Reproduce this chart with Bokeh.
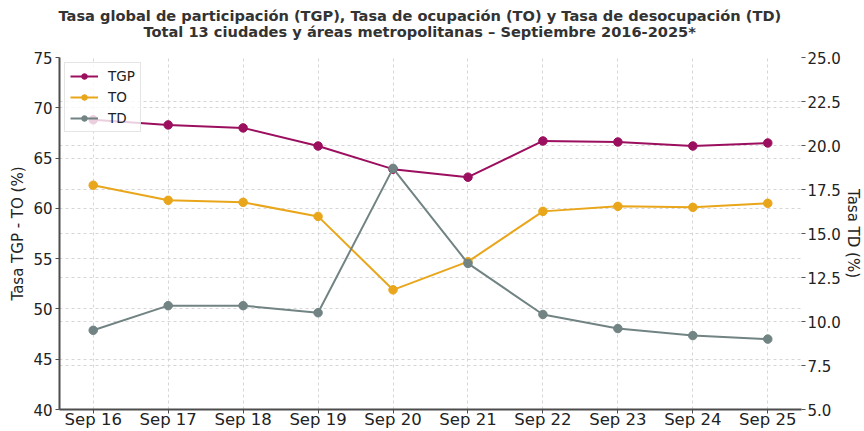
from bokeh.plotting import figure
from bokeh.models import (Range1d, LinearAxis, Grid, FixedTicker, Title, Legend,
                          LegendItem, ColumnDataSource, PrintfTickFormatter)
from bokeh.embed import file_html
from bokeh.resources import INLINE

# ---- data ----
periods = ["Sep 16", "Sep 17", "Sep 18", "Sep 19", "Sep 20",
           "Sep 21", "Sep 22", "Sep 23", "Sep 24", "Sep 25"]
tgp = [68.8, 68.3, 68.0, 66.2, 63.9, 63.1, 66.7, 66.6, 66.2, 66.5]
to_ = [62.3, 60.8, 60.6, 59.2, 51.9, 54.7, 59.7, 60.2, 60.1, 60.5]
td = [9.5, 10.9, 10.9, 10.5, 18.7, 13.3, 10.4, 9.6, 9.2, 9.0]
left_ticks = [40, 45, 50, 55, 60, 65, 70, 75]
right_ticks = [5.0, 7.5, 10.0, 12.5, 15.0, 17.5, 20.0, 22.5, 25.0]
title_1 = "Tasa global de participación (TGP), Tasa de ocupación (TO) y Tasa de desocupación (TD)"
title_2 = "Total 13 ciudades y áreas metropolitanas – Septiembre 2016-2025*"

C_TGP = "#9c0f5f"
C_TO = "#e9a61b"
C_TD = "#718383"
FONT = "DejaVu Sans"
TXT = "#222222"
SPINE = "#4d4d4d"
GRID = "#d6d6d6"

xs = list(range(len(periods)))
src = ColumnDataSource(dict(x=xs, tgp=tgp, to=to_, td=td))

p = figure(width=864, height=431, output_backend="svg", toolbar_location=None,
           x_range=Range1d(-0.45, len(periods) - 1 + 0.45),
           y_range=Range1d(40, 75))
p.min_border_left = 59
p.min_border_right = 0
p.min_border_bottom = 0
p.min_border_top = 57
p.outline_line_color = None
p.background_fill_color = "white"
p.border_fill_color = "white"

p.extra_y_ranges = {"td": Range1d(5, 25)}

# x axis
xa = p.xaxis[0]
xa.axis_label = None
xa.ticker = FixedTicker(ticks=xs)
xa.major_label_overrides = {i: lab for i, lab in enumerate(periods)}
xa.minor_tick_line_color = None
xa.minor_tick_out = 0
xa.major_tick_out = 4
xa.major_tick_in = 0
xa.major_label_standoff = -4
xa.major_label_text_font = FONT
xa.major_label_text_font_size = "16.5px"
xa.major_label_text_line_height = 1.0
xa.major_label_text_color = TXT
xa.axis_line_color = SPINE
xa.axis_line_width = 2
xa.major_tick_line_color = SPINE

# left axis
ya = p.yaxis[0]
ya.ticker = FixedTicker(ticks=left_ticks)
ya.minor_tick_line_color = None
ya.minor_tick_out = 0
ya.major_tick_out = 4
ya.major_tick_in = 0
ya.major_label_standoff = 3
ya.major_label_text_font = FONT
ya.major_label_text_font_size = "15px"
ya.major_label_text_color = TXT
ya.axis_line_color = SPINE
ya.axis_line_width = 2
ya.major_tick_line_color = SPINE
ya.axis_label = "Tasa TGP - TO (%)"
ya.axis_label_text_font = FONT
ya.axis_label_text_font_size = "15px"
ya.axis_label_text_font_style = "normal"
ya.axis_label_text_color = TXT
ya.axis_label_standoff = 3

# right axis
ra = LinearAxis(y_range_name="td", ticker=FixedTicker(ticks=right_ticks),
                formatter=PrintfTickFormatter(format="%.1f"))
ra.minor_tick_line_color = None
ra.minor_tick_out = 0
ra.major_tick_out = 4
ra.major_tick_in = 0
ra.major_label_standoff = 2
ra.major_label_text_font = FONT
ra.major_label_text_font_size = "15px"
ra.major_label_text_color = TXT
ra.axis_line_color = None
ra.major_tick_line_color = "#555555"
ra.axis_label = "Tasa TD (%)"
ra.axis_label_text_font = FONT
ra.axis_label_text_font_size = "15px"
ra.axis_label_text_line_height = 1.0
ra.axis_label_text_font_style = "normal"
ra.axis_label_text_color = TXT
ra.axis_label_standoff = 0
p.add_layout(ra, "right")

# grids
for g in (p.xgrid[0], p.ygrid[0]):
    g.grid_line_color = GRID
    g.grid_line_dash = "3 3"
    g.grid_line_width = 1
p.ygrid[0].ticker = FixedTicker(ticks=left_ticks)
p.xgrid[0].ticker = FixedTicker(ticks=xs)
g2 = Grid(dimension=1, ticker=FixedTicker(ticks=right_ticks), y_range_name="td",
          grid_line_color=GRID, grid_line_dash="3 3", grid_line_width=1)
p.add_layout(g2)

# series
l1 = p.line("x", "tgp", source=src, line_color=C_TGP, line_width=2)
c1 = p.scatter("x", "tgp", source=src, marker="circle", size=8.5, fill_color=C_TGP, line_color=C_TGP)
l2 = p.line("x", "to", source=src, line_color=C_TO, line_width=2)
c2 = p.scatter("x", "to", source=src, marker="circle", size=8.5, fill_color=C_TO, line_color=C_TO)
l3 = p.line("x", "td", source=src, line_color=C_TD, line_width=2, y_range_name="td")
c3 = p.scatter("x", "td", source=src, marker="circle", size=8.5, fill_color=C_TD, line_color=C_TD,
               y_range_name="td")

legend = Legend(items=[LegendItem(label="TGP", renderers=[l1, c1]),
                       LegendItem(label="TO", renderers=[l2, c2]),
                       LegendItem(label="TD", renderers=[l3, c3])],
                location="top_left")
legend.label_text_font = FONT
legend.label_text_font_size = "13.5px"
legend.label_text_color = TXT
legend.border_line_color = "#cccccc"
legend.border_line_width = 1
legend.background_fill_color = "white"
legend.background_fill_alpha = 0.8
legend.glyph_width = 28
legend.glyph_height = 14
legend.label_standoff = 10
legend.spacing = 5
legend.padding = 5
legend.margin = 5
legend.label_height = 14
p.add_layout(legend)

# titles: spacer nearest the frame, then line 2, then line 1 on top
common = dict(align="left", text_font=FONT, text_font_size="14.6px",
              text_font_style="bold", text_color="#333333")
spacer = Title(text=" ", standoff=-1, **common)
t2 = Title(text=title_2, offset=84, standoff=0, **common)
t1 = Title(text=title_1, offset=-1, standoff=-6, **common)
p.add_layout(spacer, "above")
p.add_layout(t2, "above")
p.add_layout(t1, "above")

open("out.html", "w").write(file_html(p, INLINE))
